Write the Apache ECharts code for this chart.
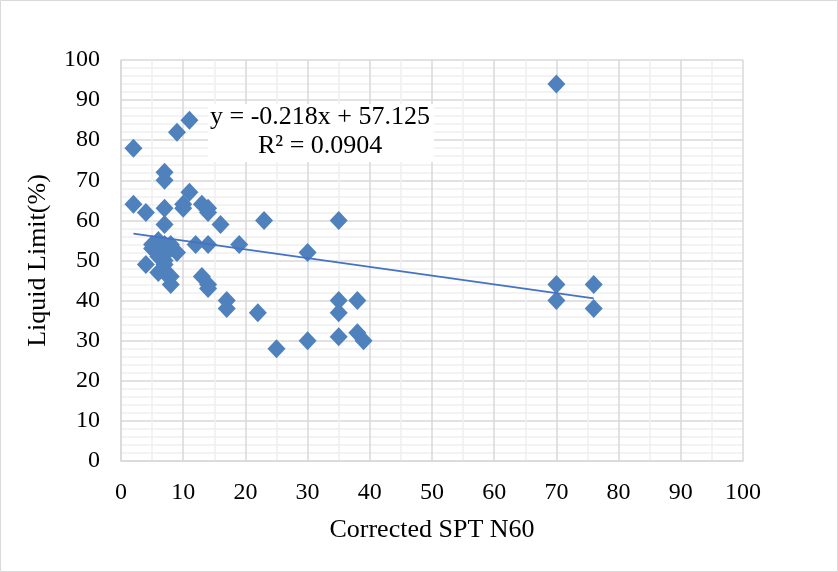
<!DOCTYPE html>
<html><head><meta charset="utf-8">
<script src="https://cdn.jsdelivr.net/npm/echarts@6/dist/echarts.min.js"></script>
<style>html,body{margin:0;padding:0;background:#fff}#c{width:838px;height:572px}</style>
</head><body><div id="c"></div>
<script>
const spt = [2,2,4,4,7,7,7,7,9,11,11,10,10,13,14,14,12,14,16,19,23,30,35,13,14,14,17,17,22,25,30,35,35,35,38,38,39,70,70,70,76,76,
  5,5,6,6,7,7,8,8,9,7,6,7,7,6,8,8,7];
const liquidLimit = [78,64,62,49,72,70,63,59,82,85,67,64,63,64,63,62,54,54,59,54,60,52,60,46,44,43,40,38,37,28,30,40,37,31,40,32,30,94,44,40,44,38,
  53,54,55,53,54,53,54,53,52,52,51,50,49,47,46,44,47];
const slope = -0.218, intercept = 57.125;
const eqText = 'y = -0.218x + 57.125';
const r2Text = 'R² = 0.0904';
const xTitle = 'Corrected SPT N60';
const yTitle = 'Liquid Limit(%)';

const pts = spt.map((x,i)=>[x, liquidLimit[i]]);
const xMin = Math.min(...spt), xMax = Math.max(...spt);
const trend = [[xMin, slope*xMin+intercept],[xMax, slope*xMax+intercept]];
const font = '"Liberation Serif","DejaVu Serif",serif';
const chart = echarts.init(document.getElementById('c'));
chart.setOption({
  animation:false,
  backgroundColor:'#fff',
  grid:{left:121,right:95,top:60,bottom:111},
  xAxis:{type:'value',min:0,max:100,interval:10,
    name:xTitle,nameLocation:'middle',nameGap:56,
    nameTextStyle:{fontFamily:font,fontSize:26,color:'#000'},
    axisLine:{show:true,lineStyle:{color:'#d9d9d9',width:1.5}},axisTick:{show:false},
    axisLabel:{fontFamily:font,fontSize:24,color:'#000',margin:20},
    splitLine:{show:true,lineStyle:{color:'#d9d9d9',width:1.5}},
    minorTick:{show:false,splitNumber:2},
    minorSplitLine:{show:true,lineStyle:{color:'#f0f0f0',width:1.5}}},
  yAxis:{type:'value',min:0,max:100,interval:10,
    name:yTitle,nameLocation:'middle',nameGap:70,nameRotate:90,
    nameTextStyle:{fontFamily:font,fontSize:26,color:'#000'},
    axisLine:{show:true,lineStyle:{color:'#d9d9d9',width:1.5}},axisTick:{show:false},
    axisLabel:{fontFamily:font,fontSize:24,color:'#000',margin:21},
    splitLine:{show:true,lineStyle:{color:'#d9d9d9',width:1.5}},
    minorTick:{show:false,splitNumber:5},
    minorSplitLine:{show:true,lineStyle:{color:'#f0f0f0',width:1.5}}},
  series:[
    {type:'line',data:trend,symbol:'none',lineStyle:{color:'#4472C4',width:1.8},z:3,silent:true},
    {type:'scatter',data:pts,symbol:'diamond',symbolSize:[18,19],itemStyle:{color:'#4F81BD',opacity:1},z:2}
  ],
  graphic:[
    {type:'rect',shape:{x:0.5,y:0.5,width:837,height:571},style:{fill:'none',stroke:'#d9d9d9',lineWidth:1},silent:true},
    {type:'rect',z:10,shape:{x:208,y:104,width:226,height:58},style:{fill:'#fff'},silent:true},
    {type:'text',z:11,left:210,top:104,style:{text:eqText,font:'26px '+font,fill:'#000'}},
    {type:'text',z:11,left:258,top:133,style:{text:r2Text,font:'26px '+font,fill:'#000'}}
  ]
});
</script></body></html>
